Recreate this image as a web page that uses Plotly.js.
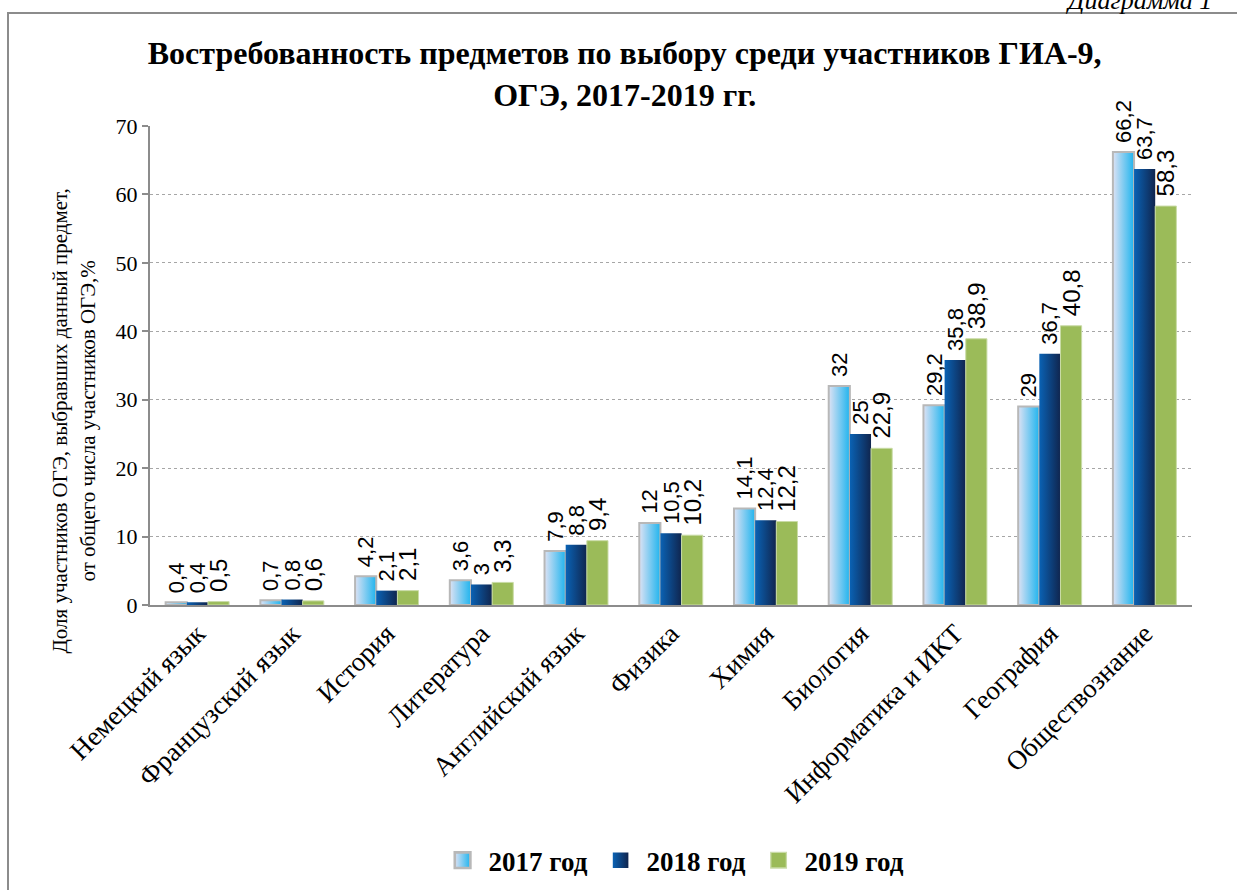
<!DOCTYPE html>
<html>
<head>
<meta charset="utf-8">
<script src="https://cdn.plot.ly/plotly-3.0.1.min.js"></script>
<style>
  body { margin: 0; background: #fff; overflow: hidden; }
  #frame { position: absolute; left: 7px; top: 12px; width: 1240px; height: 890px;
           border-left: 2px solid #8c8c8c; border-top: 2px solid #8c8c8c; }
  #caption { position: absolute; left: 1068px; top: -14px; font-family: "Liberation Serif", serif;
             font-style: italic; font-size: 26px; color: #000; }
  #chart { position: absolute; left: 0; top: 0; }
</style>
</head>
<body>
<div id="frame"></div>
<div id="caption">Диаграмма 1</div>
<div id="chart"></div>
<script>
'use strict'

var subjects = ['Немецкий язык', 'Французский язык', 'История', 'Литература', 'Английский язык',
    'Физика', 'Химия', 'Биология', 'Информатика и ИКТ', 'География', 'Обществознание'];
var y2017 = [0.4, 0.7, 4.2, 3.6, 7.9, 12, 14.1, 32, 29.2, 29, 66.2];
var y2018 = [0.4, 0.8, 2.1, 3, 8.8, 10.5, 12.4, 25, 35.8, 36.7, 63.7];
var y2019 = [0.5, 0.6, 2.1, 3.3, 9.4, 10.2, 12.2, 22.9, 38.9, 40.8, 58.3];
var yearNames = ['2017 год', '2018 год', '2019 год'];

// comma decimals, leading space lifts the label a bit off the bar
function labels(arr) {
    return arr.map(v => ' ' + String(v).replace('.', ','));
}

var serif = 'Liberation Serif, Times New Roman, serif';
var sans = 'Liberation Sans, Arial, sans-serif';

var trace2017 = {
    type: 'bar',
    name: yearNames[0],
    x: subjects,
    y: y2017,
    text: labels(y2017),
    textposition: 'outside',
    textangle: -90,
    constraintext: 'none',
    cliponaxis: false,
    textfont: {family: sans, size: 22, color: '#000'},
    marker: {color: '#5fc6f2', line: {color: '#b8b8b8', width: 2}}
}

var trace2018 = {
    type: 'bar',
    name: yearNames[1],
    x: subjects,
    y: y2018,
    text: labels(y2018),
    textposition: 'outside',
    textangle: -90,
    constraintext: 'none',
    cliponaxis: false,
    textfont: {family: sans, size: 22, color: '#000'},
    marker: {color: '#0b3f7c', line: {color: '#0b3f7c', width: 0}}
}

var trace2019 = {
    type: 'bar',
    name: yearNames[2],
    x: subjects,
    y: y2019,
    text: labels(y2019),
    textposition: 'outside',
    textangle: -90,
    constraintext: 'none',
    cliponaxis: false,
    textfont: {family: sans, size: 24, color: '#000'},
    marker: {color: '#9bbb59', line: {color: '#c9dba6', width: 1}}
}

var layout = {
    width: 1237,
    height: 890,
    margin: {l: 150, r: 45, t: 126, b: 285},
    paper_bgcolor: 'rgba(0,0,0,0)',
    plot_bgcolor: 'rgba(0,0,0,0)',
    separators: ',.',
    barmode: 'group',
    bargap: 0.33,
    bargroupgap: 0,
    title: {
        text: '<b>Востребованность предметов по выбору среди участников ГИА-9,<br>ОГЭ, 2017-2019 гг.</b>',
        font: {family: serif, size: 32, color: '#000'},
        x: 0.505,
        xanchor: 'center',
        y: 0.928,
        yanchor: 'top'
    },
    xaxis: {
        tickangle: -45,
        tickfont: {family: serif, size: 27, color: '#000'},
        showline: true,
        linecolor: '#8c8c8c',
        linewidth: 2,
        ticks: '',
        showgrid: false
    },
    yaxis: {
        range: [0, 70],
        dtick: 10,
        tickfont: {family: serif, size: 22, color: '#000'},
        showline: true,
        linecolor: '#8c8c8c',
        linewidth: 2,
        ticks: 'outside',
        ticklen: 6,
        tickcolor: '#8c8c8c',
        tickwidth: 2,
        gridcolor: '#a6a6a6',
        griddash: 'dot',
        gridwidth: 1,
        zeroline: false
    },
    // y title sits lower than the axis centre in the original, so it is an annotation
    annotations: [{
        text: 'Доля участников ОГЭ, выбравших данный предмет,<br>от общего числа участников ОГЭ,%',
        font: {family: serif, size: 21, color: '#000'},
        textangle: -90,
        showarrow: false,
        xref: 'paper',
        yref: 'paper',
        x: -0.073,
        y: 0.385,
        xanchor: 'center',
        yanchor: 'middle'
    }],
    showlegend: true,
    legend: {
        orientation: 'h',
        x: 0.514,
        xanchor: 'center',
        yref: 'container',
        y: 0.033,
        yanchor: 'middle',
        font: {family: serif, size: 27, color: '#000', weight: 'bold'},
        itemwidth: 30,
        entrywidth: 113,
        traceorder: 'normal'
    }
}

Plotly.newPlot('chart', [trace2017, trace2018, trace2019], layout, {staticPlot: true}).then(
    function(gd) {
        // bar gradients like the original office chart
        var svg = gd.querySelector('svg.main-svg');
        var defs = svg.querySelector('defs');
        var ns = 'http://www.w3.org/2000/svg';
        function addGrad(id, c1, c2) {
            var g = document.createElementNS(ns, 'linearGradient');
            g.setAttribute('id', id);
            g.setAttribute('x1', '0'); g.setAttribute('x2', '1');
            g.setAttribute('y1', '0'); g.setAttribute('y2', '0');
            var s1 = document.createElementNS(ns, 'stop');
            s1.setAttribute('offset', '0'); s1.setAttribute('stop-color', c1);
            var s2 = document.createElementNS(ns, 'stop');
            s2.setAttribute('offset', '1'); s2.setAttribute('stop-color', c2);
            g.appendChild(s1); g.appendChild(s2);
            defs.appendChild(g);
        }
        addGrad('g2017', '#dde2f4', '#1fb4ee');
        addGrad('g2018', '#0a62b4', '#10254e');
        var fills = ['url(#g2017)', 'url(#g2018)', null];
        gd.querySelectorAll('.barlayer .trace.bars').forEach(function(t, i) {
            if (!fills[i]) return;
            t.querySelectorAll('path').forEach(function(p) { p.style.fill = fills[i]; });
        });
        gd.querySelectorAll('.legend .traces').forEach(function(t, i) {
            t.querySelectorAll('.legendpoints path').forEach(function(p) {
                if (fills[i]) p.style.fill = fills[i];
                p.setAttribute('transform', 'translate(14,0) scale(1.3)');
            });
        });
    }
);
</script>
</body>
</html>
